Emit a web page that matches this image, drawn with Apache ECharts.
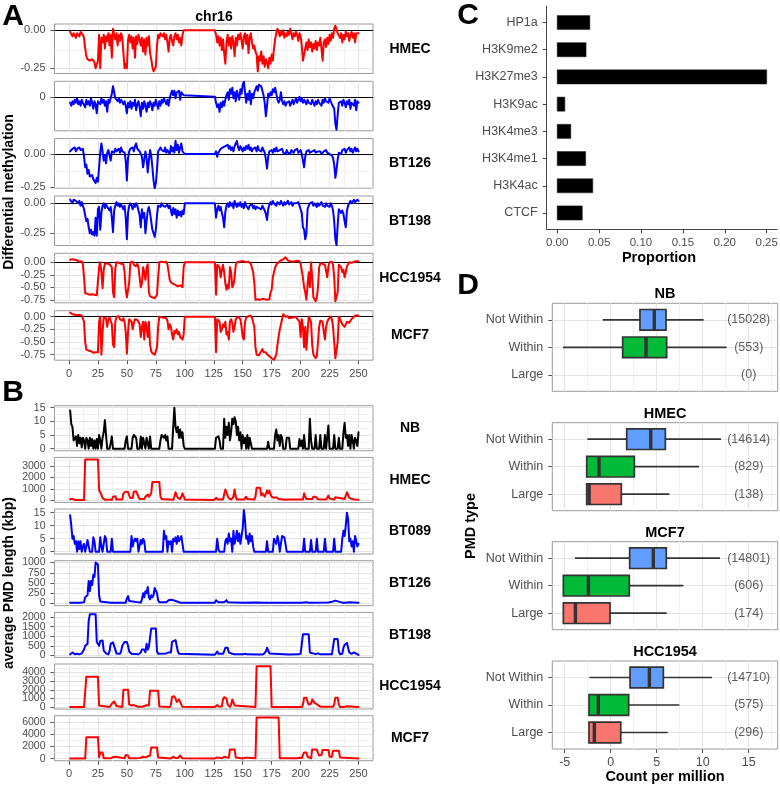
<!DOCTYPE html>
<html><head><meta charset="utf-8">
<script src="https://cdn.jsdelivr.net/npm/echarts@6/dist/echarts.min.js"></script>
<style>html,body{margin:0;padding:0;background:#fff}#c{width:780px;height:786px}</style>
</head><body><div id="c"></div>
<script>
// ---------------- DATA ----------------
const X_TICKS = [0,25,50,75,100,125,150,175,200,225,250];
const A_NAMES = ['HMEC','BT089','BT126','BT198','HCC1954','MCF7'];
const B_NAMES = ['NB','HMEC','BT089','BT126','BT198','HCC1954','MCF7'];

const A_HMEC = [[1,-0.01],[3,-0.04],[4,-0.02],[6,-0.05],[7,-0.02],[9,-0.04],[10,-0.01],[12,-0.03],[13,-0.05],[14,-0.12],[15,-0.17],[16,-0.19],[18,-0.2],[20,-0.19],[22,-0.21],[23,-0.25],[24,-0.25],[25,-0.2],[26,-0.03],[27,-0.25],[28,-0.05],[29,-0.08],[30,-0.03],[31,-0.12],[32,-0.04],[33,-0.07],[34,-0.02],[35,-0.1],[36,-0.03],[37,-0.18],[38,0.01],[39,-0.03],[40,-0.06],[41,-0.02],[42,-0.1],[43,-0.03],[44,-0.07],[45,-0.02],[46,-0.05],[47,-0.15],[48,-0.25],[49,-0.22],[50,-0.25],[51,-0.06],[52,-0.03],[53,-0.08],[54,-0.04],[55,-0.12],[56,-0.05],[57,-0.18],[58,-0.04],[59,-0.09],[60,-0.03],[61,-0.06],[62,-0.1],[63,-0.05],[64,-0.14],[65,-0.06],[66,-0.16],[67,-0.05],[68,-0.1],[69,-0.04],[70,-0.15],[71,-0.19],[72,-0.24],[73,-0.27],[74,-0.28],[75,-0.24],[76,-0.1],[77,-0.03],[78,-0.05],[79,-0.02],[80,-0.01],[81,-0.04],[82,-0.02],[83,-0.06],[84,-0.03],[85,-0.08],[86,-0.14],[87,-0.05],[88,-0.03],[89,-0.07],[90,-0.1],[91,-0.04],[92,-0.02],[93,-0.06],[94,-0.03],[95,-0.08],[96,-0.05],[97,-0.1],[98,-0.03],[99,0],[126,0],[127,-0.03],[128,-0.08],[129,-0.04],[130,-0.1],[131,-0.05],[132,-0.13],[133,-0.06],[134,-0.15],[135,-0.22],[136,-0.08],[137,-0.03],[138,-0.1],[139,-0.05],[140,-0.12],[141,-0.04],[142,-0.08],[143,-0.17],[144,-0.05],[145,-0.1],[146,-0.03],[147,-0.06],[148,-0.02],[149,-0.07],[150,-0.12],[151,-0.04],[152,-0.02],[153,-0.09],[154,-0.03],[155,-0.15],[156,-0.05],[157,-0.02],[158,-0.08],[159,-0.12],[160,-0.1],[161,-0.14],[162,-0.16],[163,-0.27],[164,-0.17],[165,-0.2],[166,-0.14],[167,-0.22],[168,-0.17],[169,-0.24],[170,-0.19],[171,-0.21],[172,-0.25],[173,-0.18],[174,-0.22],[175,-0.16],[176,-0.2],[177,-0.12],[178,-0.06],[179,-0.02],[180,0.01],[181,-0.01],[182,-0.04],[183,-0.01],[184,-0.03],[185,0],[186,-0.05],[187,-0.02],[188,-0.04],[189,-0.01],[190,-0.03],[191,0.01],[192,-0.02],[193,-0.06],[194,-0.02],[195,-0.04],[196,-0.01],[197,-0.03],[198,-0.07],[199,-0.02],[200,-0.04],[201,-0.1],[202,-0.2],[203,-0.19],[204,-0.12],[205,-0.08],[206,-0.13],[207,-0.06],[208,-0.11],[209,-0.08],[210,-0.14],[211,-0.09],[212,-0.12],[213,-0.07],[214,-0.13],[215,-0.08],[216,-0.1],[217,-0.05],[218,-0.12],[219,-0.2],[220,-0.08],[221,-0.06],[222,-0.11],[223,-0.05],[224,-0.09],[225,-0.03],[226,-0.07],[227,-0.02],[228,-0.05],[229,0.01],[230,0.03],[231,0.02],[232,-0.02],[233,-0.01],[234,-0.05],[235,-0.02],[236,-0.08],[237,-0.03],[238,-0.06],[239,-0.01],[240,-0.04],[241,-0.02],[242,-0.07],[243,-0.03],[244,-0.01],[245,-0.05],[246,-0.02],[247,-0.08],[248,-0.02],[249,-0.03],[250,-0.02]];

const A_BT089 = [[1,-0.04],[2,-0.06],[3,-0.03],[4,-0.05],[5,-0.02],[6,-0.04],[7,-0.01],[8,-0.05],[9,-0.03],[10,-0.06],[11,-0.02],[12,-0.04],[13,-0.03],[14,-0.07],[15,-0.02],[16,-0.05],[17,-0.03],[18,-0.06],[19,-0.01],[20,-0.04],[21,-0.08],[22,-0.03],[23,-0.05],[24,-0.11],[25,-0.03],[26,-0.02],[27,-0.05],[28,-0.01],[29,-0.04],[30,-0.02],[31,-0.06],[32,-0.03],[33,-0.1],[34,-0.02],[35,-0.04],[36,-0.01],[37,0.02],[38,0.07],[39,0.06],[40,-0.01],[41,-0.02],[42,-0.03],[43,-0.01],[44,-0.04],[45,-0.02],[46,-0.03],[47,-0.05],[48,-0.03],[49,-0.06],[50,-0.11],[51,-0.04],[52,-0.07],[53,-0.03],[54,-0.08],[55,-0.04],[56,-0.06],[57,-0.02],[58,-0.09],[59,-0.05],[60,-0.03],[61,-0.07],[62,-0.13],[63,-0.04],[64,-0.08],[65,-0.03],[66,-0.06],[67,-0.1],[68,-0.04],[69,-0.07],[70,-0.03],[71,-0.05],[72,-0.09],[73,-0.04],[74,-0.06],[75,-0.02],[76,-0.05],[77,-0.08],[78,-0.03],[79,-0.06],[80,-0.02],[81,-0.04],[82,-0.01],[83,-0.03],[84,-0.05],[85,-0.02],[86,-0.06],[87,-0.01],[88,0.02],[89,0.04],[90,0.01],[91,0.04],[92,-0.01],[93,0.03],[94,0.02],[95,0.04],[96,-0.02],[97,0.03],[98,0.04],[99,0.01],[100,0],[126,0],[127,-0.04],[128,-0.07],[129,-0.05],[130,-0.1],[131,-0.04],[132,-0.07],[133,-0.03],[134,-0.06],[135,-0.02],[136,0.01],[137,0.03],[138,-0.02],[139,0.05],[140,0.02],[141,0.06],[142,-0.01],[143,0.03],[144,-0.03],[145,0.04],[146,0.01],[147,-0.02],[148,0.05],[149,0.02],[150,0.08],[151,0.1],[152,0.03],[153,-0.04],[154,0.02],[155,-0.02],[156,0.04],[157,-0.05],[158,0.02],[159,-0.01],[160,0.03],[161,0.05],[162,0.07],[163,0.04],[164,0.08],[165,0.09],[166,0.07],[167,0.04],[168,0.01],[169,-0.04],[170,-0.13],[171,-0.06],[172,0.02],[173,0],[174,0.03],[175,0.01],[176,0.05],[177,0.03],[178,0.06],[179,0.02],[180,-0.02],[181,-0.04],[182,-0.02],[183,0.03],[184,-0.03],[185,-0.05],[186,-0.03],[187,-0.06],[188,-0.04],[189,-0.05],[190,-0.03],[191,-0.06],[192,-0.04],[193,-0.02],[194,-0.05],[195,-0.03],[196,-0.01],[197,-0.04],[198,-0.02],[199,0],[200,-0.03],[201,-0.01],[202,-0.04],[203,-0.02],[204,-0.03],[205,-0.05],[206,-0.02],[207,-0.04],[208,-0.03],[209,-0.05],[210,-0.02],[211,-0.04],[212,-0.06],[213,-0.03],[214,-0.05],[215,-0.02],[216,-0.04],[217,-0.03],[218,-0.06],[219,-0.02],[220,-0.04],[221,-0.01],[222,-0.03],[223,-0.02],[224,-0.04],[225,-0.01],[226,-0.03],[227,-0.05],[228,-0.04],[229,-0.08],[230,-0.18],[231,-0.22],[232,-0.12],[233,-0.04],[234,-0.05],[235,-0.03],[236,-0.06],[237,-0.02],[238,-0.04],[239,-0.07],[240,-0.03],[241,-0.05],[242,-0.02],[243,-0.08],[244,-0.04],[245,-0.03],[246,-0.06],[247,-0.02],[248,-0.09],[249,-0.03],[250,-0.04]];

const A_BT126 = [[1,0.02],[2,0.01],[3,0.04],[4,0.03],[5,0.05],[6,0.02],[7,0.04],[8,0.03],[9,0.05],[10,0.03],[11,0.02],[12,0.04],[13,-0.02],[14,-0.1],[15,-0.08],[16,-0.15],[17,-0.12],[18,-0.17],[19,-0.18],[20,-0.16],[21,-0.19],[22,-0.2],[23,-0.22],[24,-0.18],[25,-0.21],[26,-0.1],[27,0.01],[28,0.08],[29,0.02],[30,-0.05],[31,-0.01],[32,-0.07],[33,0.01],[34,0.03],[35,0.02],[36,-0.05],[37,0.02],[38,0.03],[39,0.01],[40,0.04],[41,0.02],[42,0.03],[43,0.04],[44,0.01],[45,0.05],[46,0.02],[47,0.03],[48,0.01],[49,-0.05],[50,-0.2],[51,-0.03],[52,0.02],[53,0.04],[54,0.03],[55,0.05],[56,0.02],[57,0.06],[58,0.08],[59,0.04],[60,0.05],[61,0.02],[62,0.03],[63,-0.02],[64,-0.1],[65,-0.04],[66,0.02],[67,-0.03],[68,-0.14],[69,-0.05],[70,0.03],[71,-0.01],[72,-0.1],[73,-0.2],[74,-0.26],[75,-0.22],[76,-0.12],[77,0.02],[78,0.03],[79,0.05],[80,0.03],[81,0.04],[82,0.02],[83,0.05],[84,0.01],[85,0.03],[86,0.04],[87,0],[88,0.06],[89,0.02],[90,0.05],[91,0.01],[92,0.1],[93,0.03],[94,0.07],[95,0.01],[96,0.05],[97,0.08],[98,0.02],[99,0.01],[100,0],[126,0],[127,0.02],[128,-0.02],[129,0.01],[130,0.02],[131,0.04],[132,0.03],[133,0.05],[134,0.04],[135,0.06],[136,0.05],[137,0.07],[138,0.04],[139,0.06],[140,0.03],[141,0.05],[142,0.02],[143,0.06],[144,0.08],[145,0.1],[146,0.05],[147,0.03],[148,0.06],[149,0.04],[150,0.02],[151,0.05],[152,0.03],[153,0.06],[154,0.04],[155,0.07],[156,0.03],[157,0.05],[158,0.02],[159,0.04],[160,0.03],[161,0.05],[162,0.02],[163,0.06],[164,0.03],[165,0.04],[166,0.02],[167,0.05],[168,0.03],[169,0.01],[170,-0.04],[171,-0.11],[172,-0.02],[173,0.02],[174,0.01],[175,0.03],[176,0.01],[177,0.04],[178,0.02],[179,0.05],[180,0.02],[181,0.01],[182,0.03],[183,0.02],[184,0.04],[185,0.01],[186,0.02],[187,0],[188,0.03],[189,0.01],[190,0.02],[191,0],[192,0.03],[193,0.02],[194,0.01],[195,0.03],[196,0.02],[197,0.04],[198,0.01],[199,0.02],[200,0.03],[201,0],[202,-0.05],[203,-0.1],[204,-0.02],[205,0.02],[206,0.01],[207,0.03],[208,0.01],[209,0],[210,0.02],[211,0.01],[212,0.03],[213,0.01],[214,0],[215,0.02],[216,0.01],[217,0.02],[218,0],[219,0.01],[220,0.02],[221,0.01],[222,0.03],[223,0.01],[224,0.02],[225,0],[226,0.01],[227,-0.01],[228,-0.03],[229,-0.08],[230,-0.18],[231,-0.12],[232,-0.04],[233,0.01],[234,0.02],[235,0],[236,0.03],[237,0.02],[238,0.04],[239,0.01],[240,0.03],[241,0.02],[242,0.05],[243,0.02],[244,0.04],[245,0.01],[246,0.03],[247,0.05],[248,0.02],[249,0.04],[250,0.02]];

const A_BT198 = [[1,0.03],[2,0.02],[3,0],[4,0.03],[5,0.04],[6,0.02],[7,0.03],[8,0],[9,0.02],[10,-0.02],[11,0.01],[12,-0.02],[13,-0.05],[14,-0.1],[15,-0.15],[16,-0.13],[17,-0.2],[18,-0.25],[19,-0.22],[20,-0.26],[21,-0.24],[22,-0.27],[23,-0.12],[24,-0.27],[25,-0.05],[26,-0.03],[27,-0.22],[28,-0.08],[29,-0.02],[30,0],[31,-0.04],[32,-0.01],[33,-0.03],[34,-0.02],[35,-0.06],[36,-0.03],[37,-0.12],[38,-0.24],[39,-0.06],[40,-0.02],[41,0.01],[42,-0.02],[43,0],[44,-0.03],[45,-0.01],[46,-0.02],[47,-0.05],[48,-0.02],[49,-0.12],[50,-0.3],[51,-0.08],[52,-0.02],[53,0],[54,-0.02],[55,-0.05],[56,-0.01],[57,-0.03],[58,0],[59,-0.02],[60,-0.06],[61,-0.1],[62,-0.2],[63,-0.05],[64,-0.12],[65,-0.08],[66,-0.25],[67,-0.15],[68,-0.06],[69,-0.03],[70,-0.08],[71,-0.15],[72,-0.22],[73,-0.25],[74,-0.28],[75,-0.22],[76,-0.1],[77,-0.02],[78,-0.01],[79,-0.03],[80,0],[81,-0.02],[82,-0.01],[83,-0.03],[84,-0.02],[85,-0.01],[86,-0.04],[87,-0.02],[88,-0.06],[89,-0.1],[90,-0.04],[91,-0.09],[92,-0.05],[93,-0.12],[94,-0.06],[95,-0.1],[96,-0.07],[97,-0.11],[98,-0.06],[99,-0.09],[100,0],[126,0],[127,-0.12],[128,-0.05],[129,-0.02],[130,-0.06],[131,-0.03],[132,-0.08],[133,-0.12],[134,-0.2],[135,-0.07],[136,-0.02],[137,0],[138,-0.03],[139,0.01],[140,-0.02],[141,0],[142,-0.04],[143,0.02],[144,-0.01],[145,-0.03],[146,0],[147,-0.02],[148,0.01],[149,-0.03],[150,-0.01],[151,-0.04],[152,0.01],[153,-0.02],[154,-0.01],[155,-0.05],[156,-0.02],[157,-0.03],[158,-0.01],[159,-0.04],[160,-0.02],[161,-0.05],[162,-0.03],[163,-0.02],[164,-0.04],[165,-0.03],[166,-0.05],[167,-0.02],[168,-0.04],[169,-0.06],[170,-0.09],[171,-0.14],[172,-0.05],[173,-0.01],[174,0.01],[175,-0.01],[176,0.02],[177,0],[178,0.01],[179,-0.02],[180,0.01],[181,0],[182,-0.01],[183,0.02],[184,0],[185,-0.02],[186,0.01],[187,-0.01],[188,0],[189,0.02],[190,-0.01],[191,0],[192,0.01],[193,-0.02],[194,0],[195,0.01],[196,0],[197,-0.01],[198,0.01],[199,-0.02],[200,-0.05],[201,-0.08],[202,-0.2],[203,-0.22],[204,-0.3],[205,-0.25],[206,-0.05],[207,-0.02],[208,0],[209,-0.01],[210,0.01],[211,-0.02],[212,0],[213,-0.01],[214,-0.03],[215,0],[216,-0.02],[217,-0.01],[218,0.01],[219,-0.02],[220,-0.01],[221,-0.03],[222,0],[223,-0.02],[224,-0.01],[225,-0.03],[226,0],[227,-0.02],[228,-0.06],[229,-0.15],[230,-0.3],[231,-0.35],[232,-0.18],[233,-0.05],[234,-0.04],[235,-0.08],[236,-0.06],[237,-0.09],[238,-0.15],[239,-0.2],[240,-0.06],[241,-0.02],[242,0],[243,0.02],[244,0],[245,0.01],[246,0.03],[247,0.01],[248,0.02],[249,0.03],[250,0.02]];

const A_HCC1954 = [[1,0.05],[2,0.04],[3,0.06],[4,0.03],[5,0.05],[6,0.02],[7,0.04],[8,0.03],[9,0.01],[10,0.04],[11,0.02],[12,-0.04],[13,-0.3],[14,-0.62],[15,-0.64],[16,-0.63],[17,-0.66],[18,-0.65],[19,-0.67],[20,-0.64],[21,-0.66],[22,-0.65],[23,-0.68],[24,-0.66],[25,-0.63],[26,-0.1],[27,0],[28,-0.2],[29,-0.52],[30,-0.15],[31,-0.03],[32,0.01],[33,-0.02],[34,0.02],[35,-0.04],[36,0],[37,-0.1],[38,-0.6],[39,-0.7],[40,-0.12],[41,0],[42,0.02],[43,-0.01],[44,0.01],[45,-0.03],[46,0],[47,-0.04],[48,-0.2],[49,-0.55],[50,-0.7],[51,-0.72],[52,-0.4],[53,0],[54,-0.02],[55,0.01],[56,-0.05],[57,-0.02],[58,-0.08],[59,-0.03],[60,-0.1],[61,-0.3],[62,-0.5],[63,-0.42],[64,-0.1],[65,-0.2],[66,-0.35],[67,-0.1],[68,-0.04],[69,-0.6],[70,-0.68],[71,-0.66],[72,-0.7],[73,-0.68],[74,-0.72],[75,-0.7],[76,-0.65],[77,-0.3],[78,0],[79,-0.02],[80,0.01],[81,-0.03],[82,0],[83,-0.02],[84,0.01],[85,-0.04],[86,-0.08],[87,-0.35],[88,-0.4],[89,-0.38],[90,-0.43],[91,-0.4],[92,-0.45],[93,-0.42],[94,-0.48],[95,-0.44],[96,-0.46],[97,-0.43],[98,-0.5],[99,-0.1],[100,0],[126,0],[127,-0.65],[128,-0.05],[129,-0.02],[130,-0.1],[131,-0.3],[132,-0.15],[133,-0.05],[134,-0.2],[135,-0.42],[136,-0.55],[137,-0.45],[138,-0.52],[139,-0.1],[140,-0.2],[141,-0.5],[142,-0.45],[143,-0.3],[144,-0.05],[145,0],[146,-0.02],[147,0.01],[148,0.03],[149,0.02],[150,0.05],[151,0.02],[152,0.03],[153,0],[154,-0.02],[155,0.01],[156,-0.01],[157,-0.03],[158,-0.05],[159,-0.2],[160,-0.4],[161,-0.75],[162,-0.77],[163,-0.74],[164,-0.78],[165,-0.75],[166,-0.77],[167,-0.73],[168,-0.76],[169,-0.74],[170,-0.78],[171,-0.75],[172,-0.77],[173,-0.74],[174,-0.6],[175,-0.55],[176,-0.3],[177,-0.2],[178,-0.1],[179,-0.05],[180,-0.02],[181,0],[182,0.02],[183,0.04],[184,0.03],[185,0.06],[186,0.08],[187,0.1],[188,0.06],[189,0.04],[190,0.05],[191,0.02],[192,0.04],[193,0.01],[194,0.03],[195,0.02],[196,0],[197,0.03],[198,0.01],[199,0.02],[200,-0.03],[201,-0.05],[202,-0.3],[203,-0.5],[204,-0.6],[205,-0.75],[206,-0.45],[207,-0.2],[208,-0.5],[209,0],[210,-0.3],[211,-0.7],[212,-0.72],[213,-0.78],[214,-0.7],[215,-0.5],[216,-0.1],[217,-0.02],[218,0.01],[219,-0.03],[220,0],[221,-0.05],[222,-0.02],[223,-0.3],[224,-0.08],[225,0],[226,-0.02],[227,0.01],[228,-0.05],[229,-0.3],[230,-0.78],[231,-0.77],[232,-0.6],[233,-0.05],[234,-0.03],[235,-0.1],[236,-0.2],[237,-0.15],[238,-0.3],[239,-0.2],[240,-0.08],[241,-0.05],[242,0],[243,0.02],[244,-0.01],[245,0.03],[246,0.01],[247,0.04],[248,0.02],[249,0.03],[250,0.02]];

const A_MCF7 = [[1,0.08],[2,0.06],[3,0.05],[4,0.07],[5,0.04],[6,0.06],[7,0.03],[8,0.05],[9,0.04],[10,0.05],[11,0.02],[12,0],[13,-0.1],[14,-0.5],[15,-0.65],[16,-0.68],[17,-0.67],[18,-0.7],[19,-0.68],[20,-0.69],[21,-0.71],[22,-0.68],[23,-0.7],[24,-0.72],[25,-0.7],[26,-0.1],[27,0],[28,-0.75],[29,-0.3],[30,-0.02],[31,0],[32,-0.03],[33,-0.2],[34,-0.05],[35,-0.01],[36,-0.04],[37,-0.15],[38,-0.55],[39,-0.6],[40,-0.1],[41,0],[42,-0.03],[43,0.01],[44,-0.05],[45,-0.02],[46,-0.08],[47,-0.03],[48,-0.1],[49,-0.3],[50,-0.73],[51,-0.3],[52,-0.05],[53,-0.02],[54,-0.1],[55,-0.25],[56,-0.12],[57,-0.05],[58,-0.02],[59,-0.06],[60,-0.03],[61,-0.15],[62,-0.4],[63,-0.2],[64,-0.1],[65,-0.45],[66,-0.1],[67,-0.2],[68,-0.4],[69,-0.1],[70,-0.55],[71,-0.68],[72,-0.72],[73,-0.7],[74,-0.75],[75,-0.72],[76,-0.6],[77,-0.2],[78,0],[79,0.02],[80,-0.01],[81,0.01],[82,-0.02],[83,0],[84,-0.03],[85,-0.08],[86,-0.25],[87,-0.15],[88,-0.2],[89,-0.35],[90,-0.45],[91,-0.28],[92,-0.32],[93,-0.25],[94,-0.35],[95,-0.3],[96,-0.4],[97,-0.43],[98,-0.45],[99,-0.35],[100,0],[126,0],[127,-0.7],[128,-0.05],[129,-0.08],[130,-0.1],[131,-0.3],[132,-0.25],[133,-0.15],[134,-0.2],[135,-0.1],[136,-0.35],[137,-0.3],[138,-0.45],[139,-0.1],[140,-0.05],[141,-0.12],[142,-0.3],[143,-0.2],[144,-0.05],[145,-0.02],[146,0],[147,-0.02],[148,-0.05],[149,-0.2],[150,-0.4],[151,-0.45],[152,-0.1],[153,-0.02],[154,0],[155,0.01],[156,0],[157,0.02],[158,-0.02],[159,-0.05],[160,-0.2],[161,-0.6],[162,-0.75],[163,-0.73],[164,-0.76],[165,-0.72],[166,-0.7],[167,-0.64],[168,-0.7],[169,-0.72],[170,-0.7],[171,-0.74],[172,-0.72],[173,-0.78],[174,-0.8],[175,-0.82],[176,-0.8],[177,-0.85],[178,-0.83],[179,-0.75],[180,-0.55],[181,-0.4],[182,-0.25],[183,-0.15],[184,-0.05],[185,0.05],[186,0.03],[187,0],[188,-0.02],[189,0.01],[190,-0.03],[191,0],[192,-0.02],[193,-0.05],[194,-0.01],[195,-0.03],[196,0],[197,-0.04],[198,-0.02],[199,-0.1],[200,-0.4],[201,-0.05],[202,-0.2],[203,-0.6],[204,-0.2],[205,-0.65],[206,-0.3],[207,0],[208,-0.02],[209,-0.1],[210,-0.55],[211,-0.75],[212,-0.78],[213,-0.82],[214,-0.78],[215,-0.5],[216,-0.2],[217,-0.08],[218,-0.05],[219,-0.1],[220,-0.3],[221,-0.45],[222,-0.2],[223,-0.1],[224,-0.05],[225,-0.02],[226,0],[227,-0.05],[228,-0.2],[229,-0.5],[230,-0.82],[231,-0.8],[232,-0.5],[233,0],[234,-0.05],[235,-0.08],[236,-0.15],[237,-0.12],[238,-0.2],[239,-0.15],[240,-0.1],[241,-0.13],[242,-0.12],[243,-0.08],[244,-0.05],[245,-0.02],[246,0],[247,0.02],[248,0],[249,0.03],[250,0.02]];

const B_NB = [[1,14],[2,9],[3,8],[4,3],[5,2.5],[6,4.5],[7,1],[8,5],[9,2],[10,4],[11,0.5],[12,4],[13,3],[14,0],[15,4],[16,3],[17,0],[18,4],[19,1],[20,3.5],[21,0],[22,3],[23,0],[24,3.5],[25,0],[26,5],[27,3],[28,0],[29,4],[30,6],[31,10.5],[32,5],[33,0],[35,0],[36,2],[37,4.5],[38,0],[48,0],[49,3],[50,4.5],[51,0],[54,0],[55,4],[56,5],[57,5],[58,4],[59,0],[61,0],[62,4.5],[63,0],[64,4],[65,3.5],[66,0],[67,4],[68,4],[69,0],[70,4.5],[71,0],[78,0],[79,3],[80,5],[81,4.5],[82,4],[83,5],[84,3],[85,4.5],[86,0],[89,0],[90,8],[91,15],[92,8],[93,6],[94,8],[95,4],[96,7],[97,4],[98,6],[99,1],[100,0],[126,0],[127,4],[128,4.5],[129,4.5],[130,3],[131,0],[133,0],[134,11],[135,4],[136,8],[137,5],[138,9.5],[139,3],[140,6],[141,11],[142,9],[143,11.5],[144,10],[145,5],[146,8],[147,3],[148,6],[149,0],[150,5],[151,2],[152,4],[153,0],[154,5],[155,0],[156,4],[157,2],[158,0],[171,0],[172,2.5],[173,0],[177,0],[178,5],[179,7],[180,3],[181,5],[182,1],[183,5],[184,4],[185,0],[187,0],[188,4],[189,4.5],[190,4],[191,0],[198,0],[199,3.5],[200,1],[201,3],[202,0],[203,5],[204,0],[207,0],[208,11],[209,3],[210,0],[212,0],[213,5],[214,0],[216,0],[217,5],[218,0],[220,0],[221,5],[222,0],[224,8.5],[225,0],[228,0],[229,5],[230,0],[232,0],[233,4],[234,0],[236,0],[237,6],[238,9.5],[239,4],[240,5],[241,1],[242,5],[243,0],[244,5],[245,3],[246,0],[247,4],[248,3],[249,1],[250,6]];

const B_HMEC = [[1,80],[2,100],[3,120],[4,60],[5,20],[13,20],[14,3600],[25,3600],[26,900],[27,700],[28,600],[29,200],[30,100],[31,30],[37,30],[38,300],[39,400],[40,350],[41,50],[46,50],[47,600],[48,700],[49,750],[50,700],[51,720],[52,400],[53,200],[54,300],[55,200],[56,750],[57,800],[58,780],[59,800],[60,300],[61,100],[65,100],[66,300],[67,200],[68,500],[69,300],[70,200],[71,600],[72,1600],[78,1600],[79,300],[80,100],[81,30],[90,30],[91,300],[92,700],[93,400],[94,200],[95,350],[96,100],[97,300],[98,600],[99,550],[100,60],[101,20],[125,20],[126,100],[127,200],[128,150],[129,50],[133,50],[134,500],[135,950],[136,900],[137,400],[138,150],[139,200],[140,50],[142,300],[143,950],[144,300],[145,50],[151,50],[152,200],[153,300],[154,100],[160,50],[161,300],[162,1100],[165,1100],[166,400],[167,600],[168,750],[169,300],[170,400],[171,850],[172,600],[173,850],[174,500],[175,300],[176,400],[177,200],[178,300],[179,250],[180,300],[181,100],[182,30],[187,30],[188,120],[189,50],[196,50],[197,120],[198,50],[202,50],[203,600],[204,300],[205,100],[206,50],[210,100],[211,300],[212,400],[213,300],[214,200],[215,80],[222,50],[223,200],[224,400],[225,150],[226,50],[229,60],[230,250],[231,100],[238,100],[239,400],[240,700],[241,600],[242,200],[243,100],[245,80],[246,150],[247,50],[250,30]];

const B_BT089 = [[1,14],[2,10],[3,5],[4,6],[5,3],[6,4],[7,0],[8,4],[9,1],[10,4],[11,0],[12,2],[13,3],[14,0],[15,2],[16,4.5],[17,4],[18,0],[20,0],[21,5.5],[22,4],[23,0],[26,0],[27,5.5],[28,2],[29,0],[30,3],[31,6],[32,5],[33,0],[36,0],[37,5],[38,0],[53,0],[54,6],[55,2],[56,4],[57,5],[58,4],[59,5],[60,0],[61,0],[62,4.5],[63,3],[64,5],[65,4],[66,0],[81,0],[82,8],[83,5],[84,6],[85,0],[86,4],[87,3],[88,4],[89,0],[90,5],[91,4],[92,5.5],[93,3],[94,6],[95,4],[96,5],[97,6],[98,3],[99,0],[127,0],[128,5],[129,1],[130,0],[134,0],[135,4],[136,5],[137,3],[138,7],[139,4],[140,5],[141,0],[142,8],[143,3],[144,5],[145,8],[146,4],[147,7],[148,3],[149,6],[150,9],[151,16],[152,12],[153,5],[154,6],[155,3],[156,7],[157,4],[158,6],[159,2],[160,0],[170,0],[171,4],[172,0],[176,0],[177,5],[178,4.5],[179,3],[180,6],[181,4],[182,0],[183,0],[184,6],[185,6],[186,5.5],[187,6],[188,0],[202,0],[203,5],[204,0],[208,0],[209,4.5],[210,0],[213,0],[214,5],[215,0],[220,0],[221,5],[222,0],[228,0],[229,5],[230,0],[235,0],[236,5],[237,8],[238,6],[239,10],[240,15],[241,12.5],[242,4],[243,5],[244,2],[245,4],[246,0],[247,6],[248,4],[249,2],[250,3]];

const B_BT126 = [[1,20],[5,15],[10,20],[13,30],[14,150],[15,180],[16,200],[17,550],[18,300],[19,550],[20,450],[21,700],[22,650],[23,1000],[24,1000],[25,950],[26,200],[27,50],[28,30],[36,20],[37,40],[38,20],[49,20],[50,120],[51,180],[52,60],[53,20],[62,20],[63,100],[64,250],[65,150],[66,300],[67,250],[68,400],[69,150],[70,100],[71,200],[72,150],[73,200],[74,380],[75,400],[76,250],[77,80],[78,30],[84,30],[85,60],[86,80],[87,50],[88,90],[89,110],[90,80],[91,100],[92,60],[93,80],[94,40],[96,20],[126,20],[127,80],[128,120],[129,30],[134,30],[135,60],[136,80],[137,30],[150,20],[160,25],[170,20],[171,40],[172,20],[199,20],[200,35],[201,20],[205,30],[206,50],[207,20],[224,25],[225,40],[228,50],[229,80],[230,70],[231,30],[236,20],[237,40],[238,20],[242,30],[243,20],[250,15]];

const B_BT198 = [[1,50],[2,100],[3,150],[4,100],[5,60],[7,80],[9,50],[11,100],[12,150],[13,300],[14,500],[15,400],[16,600],[17,1800],[18,2150],[23,2150],[24,700],[25,600],[26,500],[27,750],[28,800],[29,780],[30,250],[31,150],[32,100],[34,50],[35,200],[36,600],[37,700],[38,680],[39,700],[40,300],[41,100],[44,80],[45,200],[46,500],[47,600],[48,700],[49,650],[50,700],[51,500],[52,200],[53,100],[54,80],[60,50],[62,150],[63,300],[64,200],[65,300],[66,150],[67,600],[68,300],[69,450],[70,500],[71,1400],[75,1400],[76,200],[77,80],[84,100],[85,200],[86,150],[87,120],[88,150],[89,700],[90,800],[92,800],[93,700],[94,200],[95,80],[96,30],[126,30],[127,100],[128,200],[129,80],[133,80],[134,200],[135,400],[136,350],[137,400],[138,150],[139,100],[141,80],[142,120],[143,60],[147,50],[150,50],[152,80],[153,120],[154,50],[165,40],[168,60],[169,150],[170,200],[171,400],[172,350],[173,100],[174,40],[190,40],[198,50],[199,100],[200,80],[201,150],[202,1100],[207,1100],[208,150],[209,60],[213,60],[214,150],[215,100],[216,150],[217,50],[227,50],[228,150],[229,850],[232,850],[233,200],[234,60],[236,80],[237,400],[238,550],[239,650],[240,650],[241,400],[242,150],[243,200],[244,80],[245,100],[246,150],[247,60],[250,20]];

const B_HCC1954 = [[1,20],[13,20],[14,100],[15,3500],[25,3500],[26,200],[27,30],[35,30],[36,200],[37,400],[38,350],[39,660],[40,500],[41,150],[42,30],[46,30],[47,2000],[51,2000],[52,300],[53,100],[54,200],[55,150],[56,250],[57,200],[58,150],[59,200],[60,50],[63,50],[64,200],[65,150],[66,300],[67,250],[68,100],[69,200],[70,1900],[77,1900],[78,100],[79,20],[87,20],[88,300],[89,1200],[90,1300],[91,1250],[92,1000],[93,600],[94,800],[95,900],[96,850],[97,300],[98,50],[126,30],[127,200],[128,250],[129,150],[130,50],[132,100],[133,900],[134,1150],[135,1100],[136,1000],[137,300],[138,100],[139,50],[140,300],[141,900],[142,850],[143,200],[144,30],[161,30],[162,4700],[174,4700],[175,30],[201,30],[202,300],[203,1100],[205,1100],[206,600],[207,300],[208,200],[209,400],[210,900],[211,700],[212,500],[213,450],[214,350],[215,300],[216,150],[217,200],[218,50],[228,50],[229,300],[230,1100],[232,1100],[233,300],[234,40],[238,40],[239,100],[240,120],[241,40],[250,20]];

const B_MCF7 = [[1,20],[14,20],[15,3500],[25,3500],[26,200],[27,1000],[29,1000],[30,50],[36,50],[37,300],[38,250],[39,200],[40,300],[41,50],[48,50],[49,600],[50,800],[51,500],[52,40],[58,40],[59,150],[60,80],[62,150],[63,50],[64,300],[65,400],[66,200],[67,350],[68,400],[69,300],[70,500],[71,1800],[76,1800],[77,200],[78,30],[88,30],[89,200],[90,300],[91,150],[92,100],[94,100],[95,400],[96,500],[97,350],[98,40],[126,30],[127,150],[128,200],[129,50],[132,50],[133,200],[134,300],[135,150],[138,150],[139,1500],[143,1500],[144,200],[145,30],[150,30],[151,100],[152,150],[153,200],[154,150],[155,40],[161,40],[162,6700],[181,6700],[182,50],[197,50],[198,200],[199,150],[200,250],[201,100],[202,300],[203,1000],[205,1000],[206,300],[207,30],[209,50],[210,1500],[214,1500],[215,900],[216,500],[217,400],[218,600],[219,1400],[224,1400],[225,300],[226,30],[227,300],[228,1300],[233,1300],[234,200],[235,30],[250,20]];

// y-axis tick values
const A_YT_HMEC = [0,-0.25], A_YT_BT089 = [0], A_YT_BT126 = [0,-0.25], A_YT_BT198 = [0,-0.25];
const A_YT_HCC1954 = [0,-0.25,-0.5,-0.75], A_YT_MCF7 = [0,-0.25,-0.5,-0.75];
const B_YT_NB = [0,5,10,15], B_YT_HMEC = [0,1000,2000,3000], B_YT_BT089 = [0,5,10,15];
const B_YT_BT126 = [0,250,500,750,1000], B_YT_BT198 = [0,500,1000,1500,2000];
const B_YT_HCC1954 = [0,1000,2000,3000,4000], B_YT_MCF7 = [0,2000,4000,6000];

// Panel C
const C_CATS = ['HP1a','H3K9me2','H3K27me3','H3K9ac','H3K4me3','H3K4me1','H3K4ac','CTCF'];
const C_VALS = [0.039,0.0345,0.25,0.0092,0.0163,0.034,0.0425,0.030];
const C_XTICKS = [0,0.05,0.10,0.15,0.20,0.25];

// Panel D  (min, Q1, median, Q3, max)
const D_GROUPS = ['NB','HMEC','MCF7','HCC1954'];
const D_TYPES = ['Not Within','Within','Large'];
const D_NB = [[-0.87,3.18,4.74,6.01,10.1],[-5.18,1.30,3.84,6.08,12.6],null];
const D_HMEC = [[-2.54,1.74,4.35,5.94,11.99],[-2.61,-2.61,-1.27,2.57,9.6],[-2.61,-2.61,-2.35,1.15,6.37]];
const D_MCF7 = [[-3.88,2.06,4.63,6.04,11.88],[-5.15,-5.15,-2.43,2.02,7.89],[-5.15,-5.15,-3.84,-0.08,6.08]];
const D_HCC1954 = [[-2.32,2.1,4.2,5.72,11.0],[-2.36,-2.36,-1.35,1.95,7.46],[-2.36,-2.36,-1.78,1.09,6.2]];
const D_N_NB = [15028,553,0], D_N_HMEC = [14614,829,138], D_N_MCF7 = [14801,606,174], D_N_HCC1954 = [14710,575,296];
const D_XTICKS = [-5,0,5,10,15];

// ---------------- STYLE / LAYOUT ----------------
const FONT = '"Liberation Sans", Arial, Helvetica, sans-serif';
const RED = '#FF0000', BLUE = '#0000FF', BLACK = '#000000';
const D_COLORS = ['#619CFF','#00BA38','#F8766D'];
const L = {
  abLeft: 54.5, abWidth: 318.5,
  aTops: [24, 81.3, 138.6, 196, 253.3, 310.7], aH: 49.5,
  bTops: [405.7, 457.4, 509, 560.7, 612.4, 664, 715.7], bH: 45,
  aRanges: [[-0.284,0.041],[-0.227,0.103],[-0.258,0.117],[-0.352,0.061],[-0.81,0.18],[-0.858,0.118]],
  bRanges: [[-0.75,15.75],[-200,3780],[-0.9,16.4],[-55,1045],[-110,2250],[-200,4960],[-340,7000]],
  xRange: [-12.5, 262.5],
  stripX: 410,
  cLeft: 546.7, cTop: 6.2, cWidth: 230.5, cHeight: 223.1,
  dLeft: 552.3, dWidth: 225.4, dTops: [303.3, 422.7, 541.7, 661], dH: 88,
  dRange: [-6.35, 18.15], countX: 15
};
const GRID_MAJOR = {color:'#E4E4E4', width:1, type:'solid'};
const GRID_MINOR = {color:'#F1F1F1', width:1, type:'solid'};

const grids = [], xAxes = [], yAxes = [], series = [], graphics = [];

function minors(ticks, lo, hi) {
  if (ticks.length < 2) return [];
  const s = [...ticks].sort((a,b)=>a-b); const st = s[1]-s[0]; const out = [];
  for (let v = s[0]-st/2; v <= s[s.length-1]+st/2 + 1e-9; v += st) if (v > lo && v < hi) out.push(v);
  return out;
}
function gridLines(xMaj, xMin, yMaj, yMin, zero) {
  const d = [];
  xMin.forEach(v => d.push({xAxis:v, lineStyle:GRID_MINOR}));
  yMin.forEach(v => d.push({yAxis:v, lineStyle:GRID_MINOR}));
  xMaj.forEach(v => d.push({xAxis:v, lineStyle:GRID_MAJOR}));
  yMaj.forEach(v => d.push({yAxis:v, lineStyle:GRID_MAJOR}));
  if (zero) d.push({yAxis:0, lineStyle:{color:'#000', width:1.2, type:'solid'}});
  return d;
}
function addGridSeries(g, yi, lines) {
  series.push({type:'line', xAxisIndex:g, yAxisIndex:yi, data:[], silent:true, z:1, animation:false,
    markLine:{z:1, silent:true, animation:false, symbol:['none','none'], label:{show:false}, emphasis:{disabled:true}, data:lines}});
}
function txt(x, y, s, size, weight, rot, color) {
  const c = color || '#000';
  graphics.push({type:'text', x:x, y:y, rotation:rot||0, silent:true, z:100,
    style:{text:s, font:weight+' '+size+'px '+FONT, fill:c, textFill:c, align:'center', verticalAlign:'middle', textAlign:'center', textVerticalAlign:'middle'}});
}
const TICK_LS = {color:'#555', width:1};

// value y-axis whose labels are split over two stacked axes so none is dropped
function addYAxes(g, range, ticks, fmt, fontSize, margin, extra) {
  const groups = [ticks.filter((t,i) => i % 2 === 0), ticks.filter((t,i) => i % 2 === 1)];
  let main = -1;
  groups.forEach((tv, gi) => {
    if (!tv.length) return;
    const idx = yAxes.length;
    if (main < 0) main = idx;
    yAxes.push(Object.assign({gridIndex:g, type:'value', min:range[0], max:range[1], position:'left', offset:0,
      axisLine:{show:false, onZero:false}, splitLine:{show:false},
      axisTick:{show:true, customValues:tv, length:4, lineStyle:TICK_LS},
      axisLabel:{customValues:tv, fontSize:fontSize, color:'#4D4D4D', fontFamily:FONT, margin:margin, formatter:fmt, hideOverlap:false, showMinLabel:true, showMaxLabel:true}}, extra || {}));
  });
  return main;
}

function linePanel(top, h, data, yTicks, range, color, isLast, zero, fmt, name, yFont) {
  const g = grids.length;
  grids.push({left:L.abLeft, top:top, width:L.abWidth, height:h, show:true, backgroundColor:'#fff', borderColor:'#9A9A9A', borderWidth:1, containLabel:false, outerBoundsMode:'none'});
  xAxes.push({gridIndex:g, type:'value', min:L.xRange[0], max:L.xRange[1],
    axisLine:{show:false, onZero:false}, splitLine:{show:false},
    axisTick:{show:isLast, customValues:X_TICKS, length:4, lineStyle:TICK_LS},
    axisLabel:{show:isLast, customValues:X_TICKS, fontSize:11, color:'#4D4D4D', fontFamily:FONT, margin:8, hideOverlap:false, showMinLabel:true, showMaxLabel:true}});
  const yi = addYAxes(g, range, yTicks, fmt, yFont, 9);
  const xMin = X_TICKS.slice(0,-1).map(v => v + 12.5);
  addGridSeries(g, yi, gridLines(X_TICKS, xMin, yTicks, minors(yTicks, range[0], range[1]), zero));
  series.push({type:'line', xAxisIndex:g, yAxisIndex:yi, data:data, showSymbol:false, symbol:'none', silent:true, z:10, animation:false,
    lineStyle:{color:color, width:2, join:'round', cap:'round'}});
  txt(L.stripX, top + h/2, name, 14, 'bold');
}

// ---- Panel A
const A_DATA = [A_HMEC, A_BT089, A_BT126, A_BT198, A_HCC1954, A_MCF7];
const A_YT = [A_YT_HMEC, A_YT_BT089, A_YT_BT126, A_YT_BT198, A_YT_HCC1954, A_YT_MCF7];
const A_COL = [RED, BLUE, BLUE, BLUE, RED, RED];
A_NAMES.forEach((n, i) => {
  const fmt = (i === 1) ? (v => String(Math.round(v))) : (v => v.toFixed(2));
  linePanel(L.aTops[i], L.aH, A_DATA[i], A_YT[i], L.aRanges[i], A_COL[i], i === A_NAMES.length-1, true, fmt, n, 11);
});
// ---- Panel B
const B_DATA = [B_NB, B_HMEC, B_BT089, B_BT126, B_BT198, B_HCC1954, B_MCF7];
const B_YT = [B_YT_NB, B_YT_HMEC, B_YT_BT089, B_YT_BT126, B_YT_BT198, B_YT_HCC1954, B_YT_MCF7];
const B_COL = [BLACK, RED, BLUE, BLUE, BLUE, RED, RED];
B_NAMES.forEach((n, i) => {
  linePanel(L.bTops[i], L.bH, B_DATA[i], B_YT[i], L.bRanges[i], B_COL[i], i === B_NAMES.length-1, false, v => String(Math.round(v)), n, 10.5);
});

// ---- Panel C
(function(){
  const g = grids.length;
  grids.push({left:L.cLeft, top:L.cTop, width:L.cWidth, height:L.cHeight, show:false, containLabel:false, outerBoundsMode:'none'});
  const AX = {color:'#444', width:1};
  xAxes.push({gridIndex:g, type:'value', min:-0.0125, max:0.2625,
    axisLine:{show:true, onZero:false, lineStyle:AX}, splitLine:{show:false},
    axisTick:{show:true, customValues:C_XTICKS, length:4, lineStyle:AX},
    axisLabel:{customValues:C_XTICKS, fontSize:11.5, color:'#4D4D4D', fontFamily:FONT, margin:8, formatter:v => v.toFixed(2), hideOverlap:false}});
  const yt = C_CATS.map((c,i) => i+1);
  const yi = yAxes.length;
  yAxes.push({gridIndex:g, type:'value', min:0.4, max:8.6, inverse:true,
    axisLine:{show:true, onZero:false, lineStyle:AX}, splitLine:{show:false},
    axisTick:{show:true, customValues:yt, length:4, lineStyle:AX},
    axisLabel:{customValues:yt, fontSize:12.5, color:'#4D4D4D', fontFamily:FONT, margin:9, formatter:v => C_CATS[Math.round(v)-1], hideOverlap:false}});
  series.push({type:'custom', xAxisIndex:g, yAxisIndex:yi, silent:true, animation:false, z:3,
    data: C_VALS.map((v,i) => [i+1, v]),
    encode:{x:1, y:0},
    renderItem: function(params, api){
      const c = api.value(0), v = api.value(1);
      const p0 = api.coord([0, c]), p1 = api.coord([v, c]);
      const h = api.size([0, 1])[1] * 0.52;
      return {type:'rect', shape:{x:p0[0], y:p0[1]-h/2, width:p1[0]-p0[0], height:h}, style:{fill:'#000', stroke:'#222', lineWidth:0.5}};
    }});
  txt(L.cLeft + L.cWidth/2 - 3, 258, 'Proportion', 14.5, 'bold');
})();

// ---- Panel D
const D_STATS = [D_NB, D_HMEC, D_MCF7, D_HCC1954];
const D_NS = [D_N_NB, D_N_HMEC, D_N_MCF7, D_N_HCC1954];
D_GROUPS.forEach((name, k) => {
  const g = grids.length;
  const top = L.dTops[k], isLast = k === D_GROUPS.length-1;
  grids.push({left:L.dLeft, top:top, width:L.dWidth, height:L.dH, show:true, backgroundColor:'#fff', borderColor:'#9A9A9A', borderWidth:1, containLabel:false, outerBoundsMode:'none'});
  xAxes.push({gridIndex:g, type:'value', min:L.dRange[0], max:L.dRange[1],
    axisLine:{show:false, onZero:false}, splitLine:{show:false},
    axisTick:{show:isLast, customValues:D_XTICKS, length:4, lineStyle:TICK_LS},
    axisLabel:{show:isLast, customValues:D_XTICKS, fontSize:12.5, color:'#4D4D4D', fontFamily:FONT, margin:7, hideOverlap:false}});
  const yt = [1,2,3];
  const yi = yAxes.length;
  yAxes.push({gridIndex:g, type:'value', min:0.4, max:3.6, inverse:true,
    axisLine:{show:false, onZero:false}, splitLine:{show:false},
    axisTick:{show:true, customValues:yt, length:4, lineStyle:TICK_LS},
    axisLabel:{customValues:yt, fontSize:12.5, color:'#4D4D4D', fontFamily:FONT, margin:9, formatter:v => D_TYPES[Math.round(v)-1], hideOverlap:false}});
  addGridSeries(g, yi, gridLines(D_XTICKS, minors(D_XTICKS, L.dRange[0], L.dRange[1]), yt, [], false));
  const boxes = [];
  D_STATS[k].forEach((s, j) => { if (s) boxes.push([j+1].concat(s).concat([j])); });
  series.push({type:'custom', xAxisIndex:g, yAxisIndex:yi, silent:true, animation:false, z:10,
    data: boxes, encode:{x:[1,2,3,4,5], y:0},
    renderItem: function(params, api){
      const c = api.value(0);
      const col = D_COLORS[api.value(6)];
      const pLo = api.coord([api.value(1), c]), pQ1 = api.coord([api.value(2), c]), pMd = api.coord([api.value(3), c]),
            pQ3 = api.coord([api.value(4), c]), pHi = api.coord([api.value(5), c]);
      const yc = pLo[1]; const bh = api.size([0, 1])[1] * 0.75;
      const st = {stroke:'#333', lineWidth:1.7};
      return {type:'group', children:[
        {type:'line', shape:{x1:pLo[0], y1:yc, x2:pQ1[0], y2:yc}, style:st},
        {type:'line', shape:{x1:pQ3[0], y1:yc, x2:pHi[0], y2:yc}, style:st},
        {type:'rect', shape:{x:pQ1[0], y:yc-bh/2, width:pQ3[0]-pQ1[0], height:bh}, style:{fill:col, stroke:'#333', lineWidth:1.7}},
        {type:'line', shape:{x1:pMd[0], y1:yc-bh/2, x2:pMd[0], y2:yc+bh/2}, style:{stroke:'#333', lineWidth:3.4}}
      ]};
    }});
  series.push({type:'scatter', xAxisIndex:g, yAxisIndex:yi, silent:true, animation:false, z:11, symbolSize:0,
    data: D_NS[k].map((n, j) => [L.countX, j+1, n]),
    label:{show:true, position:'inside', formatter:p => '(' + p.value[2] + ')', fontSize:12.5, color:'#333', fontFamily:FONT}});
  txt(L.dLeft + L.dWidth/2, top - 9, name, 14.5, 'bold');
});

// ---- titles / letters / axis titles
txt(214, 17, 'chr16', 14, 'bold');
txt(13, 17, 'A', 30, 'bold');
txt(13, 393, 'B', 30, 'bold');
txt(468, 16, 'C', 30, 'bold');
txt(468, 286, 'D', 30, 'bold');
txt(9, 192, 'Differential methylation', 14, 'bold', Math.PI/2);
txt(9, 583, 'average PMD length (kbp)', 14, 'bold', Math.PI/2);
txt(471, 526, 'PMD type', 14.5, 'bold', Math.PI/2);
txt(665, 777, 'Count per million', 14.5, 'bold');

const chart = echarts.init(document.getElementById('c'), null, {renderer:'canvas'});
chart.setOption({
  animation:false, backgroundColor:'#fff',
  grid:grids, xAxis:xAxes, yAxis:yAxes, series:series, graphic:{elements:graphics}
});
</script></body></html>
